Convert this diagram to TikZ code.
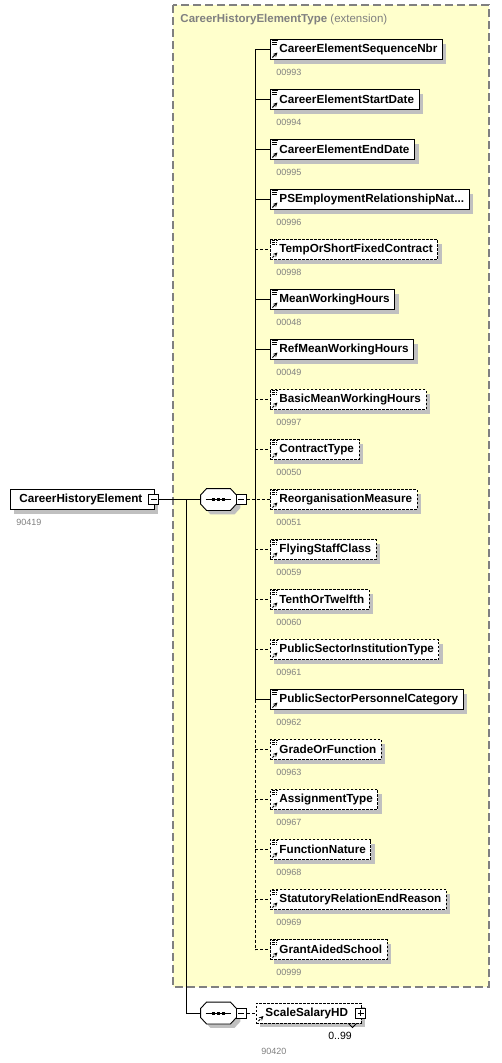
\documentclass[tikz,border=0pt]{standalone}
\usepackage{fontspec}
\setmainfont{Liberation Sans}
\usetikzlibrary{shadows}
\definecolor{typefill}{RGB}{255,255,204}
\definecolor{typeedge}{RGB}{128,128,128}
\definecolor{numgray}{RGB}{128,128,128}
\definecolor{shadowgray}{RGB}{192,192,192}
\tikzset{>=stealth}
\tikzset{
  box/.style={draw, fill=white, anchor=west, minimum height=20pt, inner ysep=0pt, inner xsep=5pt,
    font=\bfseries\fontsize{11.7}{13}\selectfont, execute at begin node=\hspace*{4pt},
    drop shadow={shadow xshift=4pt, shadow yshift=-4pt, fill=shadowgray, opacity=1}},
  elem/.style={box, path picture={
    \draw[line width=0.9pt] ([shift={(2pt,-1.2pt)}]path picture bounding box.north west) -- ++(6pt,0pt);
    \draw[line width=0.9pt] ([shift={(2pt,-3.2pt)}]path picture bounding box.north west) -- ++(5pt,0pt);
    \draw[line width=0.9pt] ([shift={(2pt,-5.2pt)}]path picture bounding box.north west) -- ++(5pt,0pt);
    \draw[->, line width=1pt] ([shift={(2pt,2pt)}]path picture bounding box.south west) -- ++(5pt,5pt);}},
  optelem/.style={elem, dash pattern=on 2.5pt off 1.5pt},
  refelem/.style={box, dash pattern=on 2.5pt off 1.5pt, path picture={
    \draw[->, line width=1pt] ([shift={(2pt,2pt)}]path picture bounding box.south west) -- ++(5pt,5pt);}},
  num/.style={anchor=north west, inner sep=0pt, text=numgray, font=\fontsize{9}{10}\selectfont},
  seq/.style={minimum width=35pt, minimum height=21pt, inner sep=0pt},
  minusbox/.style={draw, fill=white, minimum size=10pt, inner sep=0pt, path picture={
    \draw ([xshift=2pt]path picture bounding box.west) -- ([xshift=-2pt]path picture bounding box.east);}},
  plusbox/.style={draw, fill=white, minimum size=10pt, inner sep=0pt, path picture={
    \draw ([xshift=2pt]path picture bounding box.west) -- ([xshift=-2pt]path picture bounding box.east);
    \draw ([yshift=-2pt]path picture bounding box.north) -- ([yshift=2pt]path picture bounding box.south);}},
  dashline/.style={dash pattern=on 3pt off 2pt},
  typebox/.style={draw=typeedge, fill=typefill, line width=1.2pt, dash pattern=on 8pt off 4pt}
}
% octagon of a sequence compositor, drawn round an empty node
\newcommand{\seqshape}[1]{%
  \draw[fill=white, drop shadow={shadow xshift=4pt, shadow yshift=-4pt, fill=shadowgray, opacity=1}]
    ([xshift=6pt]#1.north west) -- ([xshift=-6pt]#1.north east) -- ([yshift=-6.5pt]#1.north east)
    -- ([yshift=6.5pt]#1.south east) -- ([xshift=-6pt]#1.south east) -- ([xshift=6pt]#1.south west)
    -- ([yshift=6.5pt]#1.south west) -- ([yshift=-6.5pt]#1.north west) -- cycle;
  \draw ([xshift=5pt]#1.west) -- ([xshift=-5pt]#1.east);
  \fill ([xshift=-5pt]#1.center) +(-1.5pt,-1.5pt) rectangle +(1.5pt,1.5pt);
  \fill (#1.center) +(-1.5pt,-1.5pt) rectangle +(1.5pt,1.5pt);
  \fill ([xshift=5pt]#1.center) +(-1.5pt,-1.5pt) rectangle +(1.5pt,1.5pt);}

\begin{document}
\begin{tikzpicture}[x=1pt, y=-1pt, line width=0.9pt]
    \useasboundingbox (0,0) rectangle (501,1063);
    % extension type
    \draw[typebox] (173,5) rectangle (489,987);
    \node[anchor=west, inner sep=0pt, text=typeedge, font=\fontsize{11.5}{13}\selectfont] (title) at (180,20) {\textbf{CareerHistoryElementType} (extension)};

    % root element
    \node[box, execute at end node=\hspace*{7pt}] (careerhist) at (10,499.5) {CareerHistoryElement};
    \node[num] (careerhist-id) at ([shift={(6pt,-9pt)}]careerhist.south west) {90419};
    \node[minusbox] (careerhist-pm) at ([xshift=-1pt]careerhist.east) {};

    % sequences
    \node[seq] (seqA) at (218.5,499.5) {};
    \seqshape{seqA}
    \node[minusbox] (seqA-pm) at ([xshift=5pt]seqA.east) {};
    \node[seq] (seqB) at (218.5,1013) {};
    \seqshape{seqB}
    \node[minusbox] (seqB-pm) at ([xshift=5pt]seqB.east) {};
    \coordinate (split) at (186,499.5);
    \coordinate (bus) at (255,49.5);

    % children
    \node[elem] (seqnbr) at (270,49.5) {CareerElementSequenceNbr};
    \node[num] (seqnbr-id) at ([shift={(6pt,-9pt)}]seqnbr.south west) {00993};
    \node[elem] (startdate) at (270,99.5) {CareerElementStartDate};
    \node[num] (startdate-id) at ([shift={(6pt,-9pt)}]startdate.south west) {00994};
    \node[elem] (enddate) at (270,149.5) {CareerElementEndDate};
    \node[num] (enddate-id) at ([shift={(6pt,-9pt)}]enddate.south west) {00995};
    \node[elem] (psemp) at (270,199.5) {PSEmploymentRelationshipNat...};
    \node[num] (psemp-id) at ([shift={(6pt,-9pt)}]psemp.south west) {00996};
    \node[optelem] (tempfixed) at (270,249.5) {TempOrShortFixedContract};
    \node[num] (tempfixed-id) at ([shift={(6pt,-9pt)}]tempfixed.south west) {00998};
    \node[elem] (meanhours) at (270,299.5) {MeanWorkingHours};
    \node[num] (meanhours-id) at ([shift={(6pt,-9pt)}]meanhours.south west) {00048};
    \node[elem] (refmean) at (270,349.5) {RefMeanWorkingHours};
    \node[num] (refmean-id) at ([shift={(6pt,-9pt)}]refmean.south west) {00049};
    \node[optelem] (basicmean) at (270,399.5) {BasicMeanWorkingHours};
    \node[num] (basicmean-id) at ([shift={(6pt,-9pt)}]basicmean.south west) {00997};
    \node[optelem] (contract) at (270,449.5) {ContractType};
    \node[num] (contract-id) at ([shift={(6pt,-9pt)}]contract.south west) {00050};
    \node[optelem] (reorg) at (270,499.5) {ReorganisationMeasure};
    \node[num] (reorg-id) at ([shift={(6pt,-9pt)}]reorg.south west) {00051};
    \node[optelem] (flying) at (270,549.5) {FlyingStaffClass};
    \node[num] (flying-id) at ([shift={(6pt,-9pt)}]flying.south west) {00059};
    \node[optelem] (tenth) at (270,599.5) {TenthOrTwelfth};
    \node[num] (tenth-id) at ([shift={(6pt,-9pt)}]tenth.south west) {00060};
    \node[optelem] (institution) at (270,649.5) {PublicSectorInstitutionType};
    \node[num] (institution-id) at ([shift={(6pt,-9pt)}]institution.south west) {00961};
    \node[elem] (personnel) at (270,699.5) {PublicSectorPersonnelCategory};
    \node[num] (personnel-id) at ([shift={(6pt,-9pt)}]personnel.south west) {00962};
    \node[optelem] (grade) at (270,749.5) {GradeOrFunction};
    \node[num] (grade-id) at ([shift={(6pt,-9pt)}]grade.south west) {00963};
    \node[optelem] (assignment) at (270,799.5) {AssignmentType};
    \node[num] (assignment-id) at ([shift={(6pt,-9pt)}]assignment.south west) {00967};
    \node[optelem] (function) at (270,849.5) {FunctionNature};
    \node[num] (function-id) at ([shift={(6pt,-9pt)}]function.south west) {00968};
    \node[optelem] (statutory) at (270,899.5) {StatutoryRelationEndReason};
    \node[num] (statutory-id) at ([shift={(6pt,-9pt)}]statutory.south west) {00969};
    \node[optelem] (grantaided) at (270,949.5) {GrantAidedSchool};
    \node[num] (grantaided-id) at ([shift={(6pt,-9pt)}]grantaided.south west) {00999};

    % repeated reference
    \node[refelem, execute at end node=\hspace*{8pt}] (scalesal) at (256,1013) {ScaleSalaryHD};
    \node[plusbox] (scalesal-pm) at ([xshift=-1pt]scalesal.east) {};
    \draw ([xshift=-13pt]scalesal.south east) -- ++(4pt,-4pt) -- ++(4pt,4pt);
    \node[inner sep=0pt, font=\fontsize{10.5}{12}\selectfont] (scalesal-occ) at (340,1036) {0..99};
    \node[num] (scalesal-id) at ([shift={(5pt,-24pt)}]scalesal.south west) {90420};

    % connectors
    \draw (careerhist-pm) -- (seqA);
    \draw (split) |- (seqB);
    \draw[dashline] (seqA-pm) -- (reorg);
    \draw[dashline] (seqB-pm) -- (scalesal);
    \draw (bus) -- (bus |- personnel);
    \draw[dashline] (bus |- personnel) -- (bus |- grantaided);
    \draw (bus |- seqnbr) -- (seqnbr);
    \draw (bus |- startdate) -- (startdate);
    \draw (bus |- enddate) -- (enddate);
    \draw (bus |- psemp) -- (psemp);
    \draw[dashline] (bus |- tempfixed) -- (tempfixed);
    \draw (bus |- meanhours) -- (meanhours);
    \draw (bus |- refmean) -- (refmean);
    \draw[dashline] (bus |- basicmean) -- (basicmean);
    \draw[dashline] (bus |- contract) -- (contract);
    \draw[dashline] (bus |- flying) -- (flying);
    \draw[dashline] (bus |- tenth) -- (tenth);
    \draw[dashline] (bus |- institution) -- (institution);
    \draw (bus |- personnel) -- (personnel);
    \draw[dashline] (bus |- grade) -- (grade);
    \draw[dashline] (bus |- assignment) -- (assignment);
    \draw[dashline] (bus |- function) -- (function);
    \draw[dashline] (bus |- statutory) -- (statutory);
    \draw[dashline] (bus |- grantaided) -- (grantaided);
\end{tikzpicture}
\end{document}
